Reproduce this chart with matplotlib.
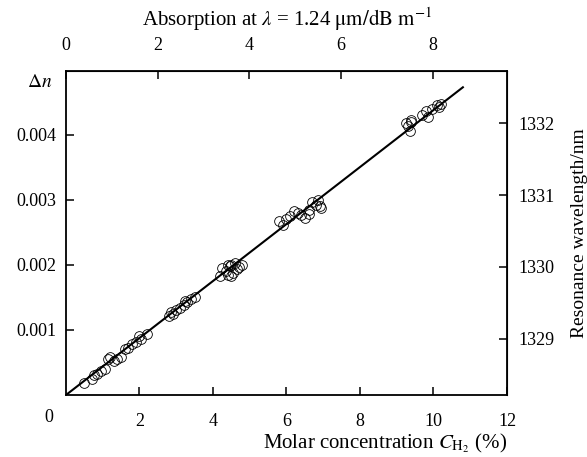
import matplotlib
matplotlib.use("Agg")
import matplotlib.pyplot as plt

plt.rcParams['font.family'] = ['Liberation Serif', 'DejaVu Serif']
plt.rcParams['mathtext.fontset'] = 'stix'

# measured points: molar concentration (%) vs index change
conc = [0.5, 0.7, 0.75, 0.85, 0.95, 1.05, 1.15, 1.2, 1.3, 1.4, 1.5, 1.6, 1.7, 1.8, 1.9, 2.0, 2.05, 2.2,
        2.8, 2.85, 2.9, 3.0, 3.1, 3.2, 3.25, 3.3, 3.4, 3.5,
        4.2, 4.25, 4.35, 4.4, 4.4, 4.45, 4.5, 4.5, 4.55, 4.6, 4.65, 4.7, 4.8,
        5.8, 5.9, 6.0, 6.1, 6.2, 6.3, 6.4, 6.5, 6.6, 6.6, 6.7, 6.8, 6.85, 6.9, 6.95,
        9.25, 9.3, 9.35, 9.4, 9.4, 9.7, 9.8, 9.85, 9.95, 10.1, 10.15, 10.2]
dn = [0.00019, 0.00024, 0.00030, 0.00033, 0.00037, 0.00040, 0.00055, 0.00058, 0.00052, 0.00055,
      0.00058, 0.00070, 0.00072, 0.00078, 0.00082, 0.00090, 0.00086, 0.00093,
      0.00122, 0.00127, 0.00125, 0.00130, 0.00133, 0.00138, 0.00145, 0.00143, 0.00147, 0.00150,
      0.00183, 0.00195, 0.00190, 0.00185, 0.00200, 0.00198, 0.00200, 0.00183, 0.00188, 0.00203,
      0.00193, 0.00197, 0.00200,
      0.00268, 0.00262, 0.00270, 0.00275, 0.00283, 0.00280, 0.00277, 0.00272, 0.00285, 0.00278,
      0.00297, 0.00292, 0.00300, 0.00290, 0.00288,
      0.00418, 0.00413, 0.00406, 0.00422, 0.00420, 0.00430, 0.00437, 0.00428, 0.00440,
      0.00445, 0.00442, 0.00448]

# linear fit line
fit_c = [0.0, 10.8]
fit_dn = [0.0, 0.00473]

x_ticks = [2, 4, 6, 8, 10, 12]
y_ticks = [0.001, 0.002, 0.003, 0.004]
top_ticks = [0, 2, 4, 6, 8]
right_ticks = [1329, 1330, 1331, 1332]

# conversions for the secondary axes
conc_per_abs = 1.247
lam0 = 1328.22
nm_per_dn = 904.4

fig = plt.figure(figsize=(5.87, 4.57), dpi=100)
ax = fig.add_axes([0.1124, 0.1357, 0.7513, 0.7089])

ax.plot(fit_c, fit_dn, color='black', lw=1.5, zorder=3)
ax.plot(conc, dn, 'o', mfc='none', mec='black', mew=0.6, ms=7, zorder=2)

ax.set_xlim(0, 12)
ax.set_ylim(0, 0.00498)
ax.set_xticks(x_ticks)
ax.set_yticks(y_ticks)
ax.set_yticklabels(['%.3f' % v for v in y_ticks])
for s in ax.spines.values():
    s.set_linewidth(1.3)
ax.tick_params(direction='in', length=6, width=1.1, labelsize=13)
ax.tick_params(axis='x', pad=13)
ax.tick_params(axis='y', pad=7)

ax.text(-0.04, -0.07, '0', transform=ax.transAxes, ha='center', va='center', fontsize=13)
ax.text(-0.03, 0.965, r'$\Delta n$', transform=ax.transAxes, ha='right', va='center', fontsize=14)

ax.set_xlabel(r'Molar concentration $C_{\mathrm{H_2}}$ (%)', fontsize=15, loc='right', labelpad=1)

top = ax.secondary_xaxis('top', functions=(lambda c: c / conc_per_abs, lambda a: a * conc_per_abs))
top.set_xticks(top_ticks)
top.tick_params(direction='in', length=6, width=1.1, labelsize=13, pad=12)
top.set_xlabel(r'Absorption at $\lambda$ = 1.24 $\mathrm{\mu m/dB\ m^{-1}}$', fontsize=15, labelpad=8)

right = ax.secondary_yaxis('right', functions=(lambda d: lam0 + d * nm_per_dn, lambda l: (l - lam0) / nm_per_dn))
right.set_yticks(right_ticks)
right.tick_params(direction='in', length=6, width=1.1, labelsize=13, pad=8)
right.set_ylabel('Resonance wavelength/nm', fontsize=14, labelpad=12)

fig.savefig('out.png', dpi=100)
